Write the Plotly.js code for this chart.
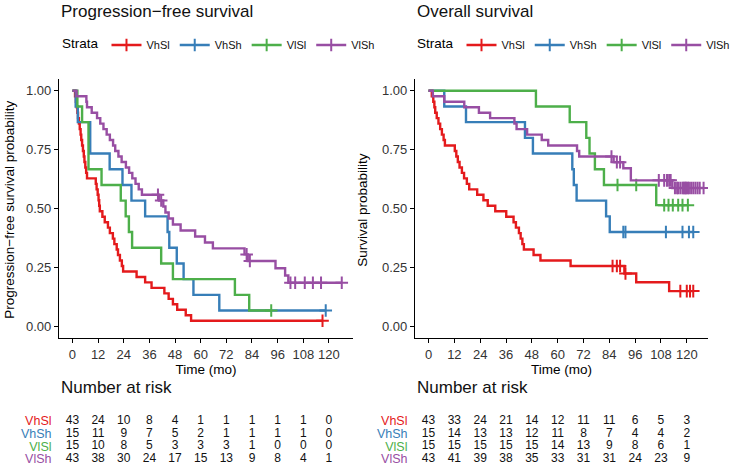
<!DOCTYPE html>
<html>
<head>
<meta charset="utf-8">
<script src="https://cdn.plot.ly/plotly-3.0.1.min.js"></script>
<style>
  html, body { margin: 0; padding: 0; background: #fff; }
  #chart { width: 735px; height: 469px; }
</style>
</head>
<body>
<div id="chart"></div>
<script>
// 그룹 정보
const groups = ['VhSl', 'VhSh', 'VlSl', 'VlSh'];
const colors = ['#E41A1C', '#377EB8', '#4DAF4A', '#984EA3'];
const groupSizes = [43, 15, 15, 43];

// 무진행 생존 (PFS): 사건 시점과 중도절단 시점 (개월)
const pfsVhSlEvents = [1.2, 1.6, 2.0, 2.3, 2.6, 3.0, 3.4, 3.8, 4.1, 4.5, 4.9, 5.3, 5.6, 6.0, 6.4, 6.8,
  10.9, 11.3, 11.8, 12.2, 12.5, 12.8, 14, 15.1, 16.6, 17.5, 18.9, 19.6, 20.7, 21.3, 22.2, 23.1, 23.7,
  30, 34, 37, 43, 45, 47, 49, 53, 55.5];
const pfsVhSlCensors = [117];
const pfsVhShEvents = [1.5, 2.5, 8.3, 8.3, 17.4, 23.4, 27.6, 34, 44.5, 45.3, 48.8, 52, 56.6, 68.7];
const pfsVhShCensors = [118.5];
const pfsVlSlEvents = [2.3, 4.5, 7.5, 7.5, 7.5, 13.6, 22.6, 24.9, 26.4, 27.9, 41.5, 47, 76, 82.7];
const pfsVlSlCensors = [93];
const pfsVlShEvents = [1.9, 6.5, 6.8, 9, 11.5, 13, 14.5, 16, 17.5, 19, 20, 21.5, 23, 25, 26.5, 28, 29.5, 31, 32.5,
  40.5, 42.5, 43.5, 45, 47, 50.6, 57.4, 62, 65.7, 80.5, 82, 95, 99.5, 101];
const pfsVlShCensors = [40, 41.5, 81.5, 83, 102, 104.2, 108.7, 112.5, 116.3, 126];

// 전체 생존 (OS)
const osVhSlEvents = [1.5, 2.2, 2.7, 3.1, 3.8, 4.6, 5.4, 6.2, 7.0, 7.6,
  12.2, 12.9, 13.6, 14.4, 15.5, 16.5, 17.8, 18.9, 22.6, 25.5, 27.5, 31,
  36.1, 39.5, 40.6, 42, 42.8, 43.6, 44.3, 48.8, 52, 66, 91, 96.5, 111.8];
const osVhSlCensors = [85.5, 87.5, 89, 91.5, 117, 120, 121.5, 123];
const osVhShEvents = [7.3, 17.4, 44.8, 48.5, 66.8, 67.5, 68.8, 82.5, 84.2];
const osVhShCensors = [90.5, 91.5, 110.3, 118, 121, 123];
const osVlSlEvents = [49.9, 65.6, 73.3, 74.8, 77.3, 81.5, 105.8];
const osVlSlCensors = [87.8, 96.5, 109.5, 111.5, 113.5, 116, 118, 120.5];
const osVlShEvents = [2, 7.3, 16.6, 23.4, 28.6, 39.9, 40.9, 45.8, 52.6, 55.6, 69, 70, 86, 90.5, 94, 94, 113.3];
const osVlShCensors = [85, 87.5, 89, 107, 109.5, 110.8, 111.8, 112.5, 114.5, 115.5, 116, 117, 118, 118.5,
  119, 119.5, 119.8, 120.5, 121, 122, 123, 124, 125, 126, 127.8];

// 위험 인원 표
const riskTimes = [0, 12, 24, 36, 48, 60, 72, 84, 96, 108, 120];
const pfsRiskVhSl = [43, 24, 10, 8, 4, 1, 1, 1, 1, 1, 0];
const pfsRiskVhSh = [15, 11, 9, 7, 5, 2, 1, 1, 1, 1, 0];
const pfsRiskVlSl = [15, 10, 8, 5, 3, 3, 3, 1, 0, 0, 0];
const pfsRiskVlSh = [43, 38, 30, 24, 17, 15, 13, 9, 8, 4, 1];
const osRiskVhSl = [43, 33, 24, 21, 14, 12, 11, 11, 6, 5, 3];
const osRiskVhSh = [15, 14, 13, 13, 12, 11, 8, 7, 4, 4, 2];
const osRiskVlSl = [15, 15, 15, 15, 15, 14, 13, 9, 8, 6, 1];
const osRiskVlSh = [43, 41, 39, 38, 35, 33, 31, 31, 24, 23, 9];

const yTicks = [0, 0.25, 0.5, 0.75, 1];
const xTicks = [0, 12, 24, 36, 48, 60, 72, 84, 96, 108, 120];

// Kaplan-Meier 계단 곡선 계산
function kmCurve(n, events, censors) {
    const times = Array.from(new Set(events.concat(censors))).sort((a, b) => a - b);
    let atRisk = n, s = 1;
    const x = [0], y = [1], cx = [], cy = [];
    times.forEach(t => {
        const d = events.filter(e => e === t).length;
        const c = censors.filter(e => e === t).length;
        if (d > 0) {
            s = s * (1 - d / atRisk);
            x.push(t); y.push(s);
        }
        for (let i = 0; i < c; i++) { cx.push(t); cy.push(s); }
        atRisk -= d + c;
    });
    const last = times[times.length - 1];
    if (x[x.length - 1] < last) { x.push(last); y.push(s); }
    return { x, y, cx, cy };
}

const FONT = 'Liberation Sans, Arial, sans-serif';
const panels = [
    { ev: [pfsVhSlEvents, pfsVhShEvents, pfsVlSlEvents, pfsVlShEvents],
      ce: [pfsVhSlCensors, pfsVhShCensors, pfsVlSlCensors, pfsVlShCensors],
      risk: [pfsRiskVhSl, pfsRiskVhSh, pfsRiskVlSl, pfsRiskVlSh],
      xa: 'x', ya: 'y', xr: 'x3', yr: 'y3', legend: 'legend' },
    { ev: [osVhSlEvents, osVhShEvents, osVlSlEvents, osVlShEvents],
      ce: [osVhSlCensors, osVhShCensors, osVlSlCensors, osVlShCensors],
      risk: [osRiskVhSl, osRiskVhSh, osRiskVlSl, osRiskVlSh],
      xa: 'x2', ya: 'y2', xr: 'x4', yr: 'y4', legend: 'legend2' }
];

const traces = [];
panels.forEach(p => {
    groups.forEach((g, i) => {
        const km = kmCurve(groupSizes[i], p.ev[i], p.ce[i]);
        traces.push({
            x: km.x, y: km.y, mode: 'lines', line: { color: colors[i], width: 2.4, shape: 'hv' },
            xaxis: p.xa, yaxis: p.ya, showlegend: false, hoverinfo: 'skip'
        });
        traces.push({
            x: km.cx, y: km.cy, mode: 'markers',
            marker: { symbol: 'cross-thin', size: 9, color: colors[i], line: { color: colors[i], width: 2 } },
            xaxis: p.xa, yaxis: p.ya, showlegend: false, hoverinfo: 'skip'
        });
        // 범례 전용 항목
        traces.push({
            x: [null], y: [null], mode: 'lines+markers', name: g, legend: p.legend,
            line: { color: colors[i], width: 2.4 },
            marker: { symbol: 'cross-thin', size: 9, color: colors[i], line: { color: colors[i], width: 2 } },
            xaxis: p.xa, yaxis: p.ya
        });
        // 위험 인원 숫자
        traces.push({
            x: riskTimes, y: riskTimes.map(() => groups.length - i), text: p.risk[i].map(String),
            mode: 'text', textfont: { family: FONT, size: 12, color: '#111' },
            xaxis: p.xr, yaxis: p.yr, showlegend: false, hoverinfo: 'skip', cliponaxis: false
        });
    });
});

const W = 735, H = 469;
const plotY = [1 - 338 / H, 1 - 79 / H];
const riskY = [1 - 465.3 / H, 1 - 414.7 / H];
const leftX = [61 / W, 365 / W];
const rightX = [429 / W, 732 / W];

function mainX(domain, range, anchor) {
    return {
        domain, range, anchor, tickvals: xTicks, ticks: 'outside', ticklen: 4, tickwidth: 1,
        tickcolor: '#000', showline: true, linecolor: '#000', linewidth: 1.1,
        showgrid: false, zeroline: false, tickfont: { size: 13, color: '#333' },
        title: { text: 'Time (mo)', font: { size: 13.5, color: '#000' }, standoff: 3 }
    };
}
function mainY(domain, anchor) {
    return {
        domain, range: [-0.05, 1.05], anchor, tickvals: yTicks, tickformat: '.2f',
        ticks: 'outside', ticklen: 4, tickwidth: 1, tickcolor: '#000', showline: true,
        linecolor: '#000', linewidth: 1.1, showgrid: false, zeroline: false,
        tickfont: { size: 13, color: '#333' }
    };
}
function riskYAxis(domain, anchor) {
    return {
        domain, range: [0.5, 4.5], anchor, tickvals: [4, 3, 2, 1],
        ticktext: groups.map((g, i) => `<span style="color:${colors[i]}">${g}</span>`),
        ticks: 'outside', ticklen: 4, tickcolor: 'rgba(0,0,0,0)', showline: false,
        showgrid: false, zeroline: false, tickfont: { size: 12.5 }
    };
}

const legendBase = {
    orientation: 'h', xanchor: 'left', yanchor: 'middle', y: 1 - 45 / H,
    font: { size: 11, color: '#111' }, bgcolor: 'rgba(0,0,0,0)',
    title: { text: 'Strata', side: 'left', font: { size: 13.5, color: '#000' } },
    itemclick: false, itemdoubleclick: false
};

const titleNotes = [
    { text: 'Progression\u2212free survival', x: 61 / W, y: 1 - 12 / H },
    { text: 'Overall survival', x: 429 / W, y: 1 - 12 / H },
    { text: 'Number at risk', x: 61 / W, y: 1 - 387 / H },
    { text: 'Number at risk', x: 429 / W, y: 1 - 387 / H }
].map(a => Object.assign(a, {
    xref: 'paper', yref: 'paper', xanchor: 'left', yanchor: 'middle',
    showarrow: false, font: { size: 17, color: '#111' }
}));
const yTitleNotes = [
    { text: 'Progression\u2212free survival probability', x: 10 / W },
    { text: 'Survival probability', x: 375 / W }
].map(a => Object.assign(a, {
    y: 1 - 210 / H, xref: 'paper', yref: 'paper', xanchor: 'center', yanchor: 'middle',
    textangle: -90, showarrow: false, font: { size: 13.5, color: '#000' }
}));

const layout = {
    width: W, height: H,
    margin: { l: 0, r: 0, t: 0, b: 0 },
    paper_bgcolor: '#fff', plot_bgcolor: '#fff',
    font: { family: FONT, color: '#000' },
    xaxis: mainX(leftX, [-6.3, 131.3], 'y'),
    yaxis: mainY(plotY, 'x'),
    xaxis2: mainX(rightX, [-6.3, 129.9], 'y2'),
    yaxis2: mainY(plotY, 'x2'),
    xaxis3: { domain: leftX, range: [-6.3, 131.3], anchor: 'y3', visible: false },
    yaxis3: riskYAxis(riskY, 'x3'),
    xaxis4: { domain: rightX, range: [-6.3, 129.9], anchor: 'y4', visible: false },
    yaxis4: riskYAxis(riskY, 'x4'),
    legend: Object.assign({}, legendBase, { x: 62 / W }),
    legend2: Object.assign({}, legendBase, { x: 429 / W }),
    annotations: titleNotes.concat(yTitleNotes)
};

Plotly.newPlot('chart', traces, layout, { displayModeBar: false, staticPlot: true });
</script>
</body>
</html>
